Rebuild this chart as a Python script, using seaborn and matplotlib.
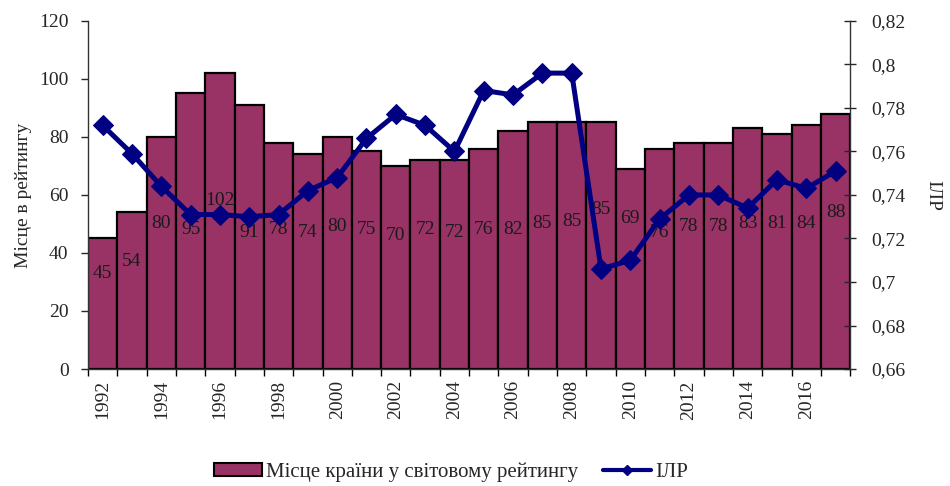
import numpy as np
import pandas as pd
import seaborn as sns
import matplotlib.pyplot as plt
from matplotlib.ticker import FuncFormatter, FixedLocator
from matplotlib.patches import Patch
from matplotlib.lines import Line2D

# Data
years = list(range(1992, 2018))
rank = [45, 54, 80, 95, 102, 91, 78, 74, 80, 75, 70, 72, 72,
        76, 82, 85, 85, 85, 69, 76, 78, 78, 83, 81, 84, 88]
hdi = [0.772, 0.759, 0.744, 0.731, 0.731, 0.730, 0.731, 0.742, 0.748,
       0.766, 0.777, 0.772, 0.760, 0.788, 0.786, 0.796, 0.796, 0.706,
       0.710, 0.729, 0.740, 0.740, 0.734, 0.747, 0.743, 0.751]
tick_years = [str(y) if y % 2 == 0 else '' for y in years]

# vertical placement of the value labels (left-axis units)
label_y = [33, 37, 50, 48, 58, 47, 48, 47, 49, 48, 46, 48, 47,
           48, 48, 50, 51, 55, 52, 47, 49, 49, 50, 50, 50, 54]

bar_color = '#993366'
line_color = '#000080'

df = pd.DataFrame({'year': [str(y) for y in years], 'rank': rank, 'hdi': hdi})
df['pos'] = np.arange(len(df))

sns.set_style('white')
plt.rcParams['font.family'] = ['Liberation Serif', 'DejaVu Serif']

fig = plt.figure(figsize=(9.5, 4.86), dpi=100)
ax = fig.add_axes([0.0926, 0.2407, 0.8024, 0.7163])

sns.barplot(data=df, x='year', y='rank', color=bar_color, width=1.0,
            edgecolor='black', linewidth=1.6, saturation=1, ax=ax)
ax.set_xlim(-0.5, len(years) - 0.5)
ax.set_ylim(0, 120)
ax.set_yticks(range(0, 121, 20))
ax.set_xlabel('')
ax.set_ylabel('Місце в рейтингу', fontsize=14, labelpad=5)

for i, (v, ly) in enumerate(zip(rank, label_y)):
    ax.text(i, ly, str(v), ha='center', va='center', fontsize=14, color='#1a1a1a')

# year labels at bar centres, ticks at bar edges
ax.set_xticks(df['pos'])
ax.set_xticklabels(tick_years, rotation=90, fontsize=14)
ax.tick_params(axis='x', which='major', length=0, pad=8)
ax.xaxis.set_minor_locator(FixedLocator(np.arange(-0.5, len(years), 1.0)))
ax.tick_params(axis='x', which='minor', length=5, width=1, color='black', direction='out', bottom=True)
ax.tick_params(axis='y', length=5, width=1, direction='out', labelsize=14, left=True, pad=9)

ax2 = ax.twinx()
sns.lineplot(data=df, x='pos', y='hdi', color=line_color, linewidth=3.6,
             marker='D', markersize=10, markeredgecolor=line_color, ax=ax2)
ax2.set_xlim(-0.5, len(years) - 0.5)
ax2.set_ylim(0.66, 0.82)
ax2.set_yticks(np.arange(0.66, 0.8201, 0.02))
ax2.yaxis.set_major_formatter(FuncFormatter(lambda v, p: f'{v:.2f}'.rstrip('0').replace('.', ',')))
ax2.set_ylabel('ІЛР', fontsize=14, rotation=270, labelpad=26)
ax2.tick_params(axis='y', length=8, width=1, direction='inout', labelsize=14, right=True, pad=11)
ax2.set_xlabel('')

for a in (ax, ax2):
    a.spines['top'].set_visible(False)
    for s in ('left', 'right', 'bottom'):
        a.spines[s].set_color('#333333')
        a.spines[s].set_linewidth(1)
ax.spines['right'].set_visible(False)
ax2.spines['left'].set_visible(False)
ax2.spines['bottom'].set_visible(False)

handles = [Patch(facecolor=bar_color, edgecolor='black', linewidth=1.5),
           Line2D([0], [0], color=line_color, linewidth=3, marker='D', markersize=5)]
fig.legend(handles, ['Місце країни у світовому рейтингу', 'ІЛР'], loc='center',
           bbox_to_anchor=(0.475, 0.028), ncol=2, frameon=False, fontsize=15,
           handlelength=2.3, handleheight=0.6, columnspacing=1.2, handletextpad=0.2)

fig.savefig('out.png', dpi=100)
